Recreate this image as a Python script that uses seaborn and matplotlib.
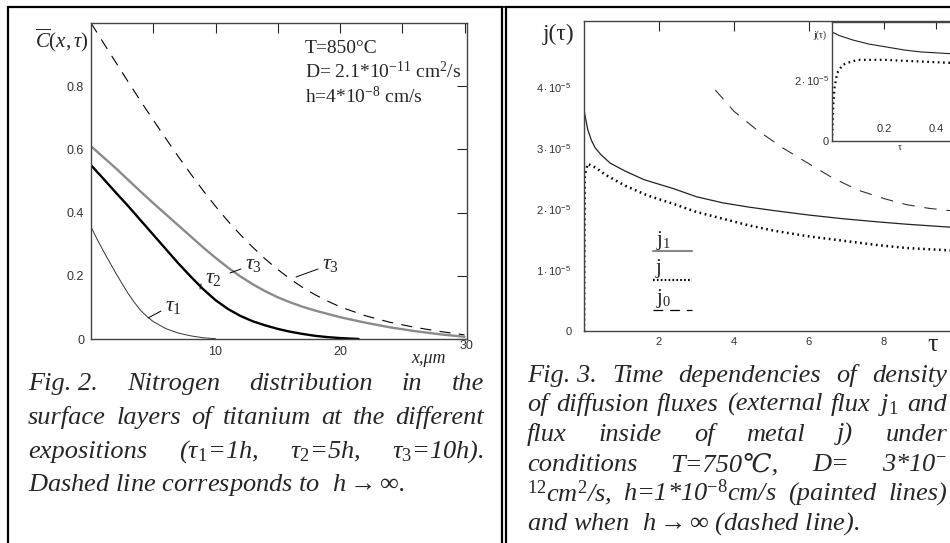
import numpy as np
import seaborn as sns
import matplotlib.pyplot as plt
from matplotlib.lines import Line2D
from matplotlib.transforms import ScaledTranslation

# ---- Fig. 2 : nitrogen concentration vs depth x (um) ----
x_inf = [0, 1, 2, 3, 4, 5, 6, 7, 8, 9, 10, 11, 12, 13, 14, 15, 16, 17, 18, 19, 20,
         22, 24, 26, 28, 30]
c_inf = [1.0, 0.937, 0.875, 0.813, 0.752, 0.693, 0.635, 0.578, 0.523, 0.47, 0.42, 0.373,
         0.33, 0.29, 0.253, 0.22, 0.19, 0.163, 0.14, 0.12, 0.102, 0.074, 0.053, 0.037,
         0.024, 0.013]
x_t3 = [0, 1, 2, 3, 4, 5, 6, 7, 8, 9, 10, 11, 12, 13, 14, 15, 16, 17, 18, 20, 22, 24,
        26, 28, 30]
c_t3 = [0.61, 0.575, 0.54, 0.503, 0.466, 0.43, 0.395, 0.36, 0.325, 0.29, 0.257, 0.226,
        0.198, 0.173, 0.151, 0.132, 0.116, 0.102, 0.09, 0.069, 0.052, 0.037, 0.025,
        0.015, 0.007]
x_t2 = [0, 1, 2, 3, 4, 5, 6, 7, 8, 9, 10, 11, 12, 13, 14, 15, 16, 17, 18, 19, 20, 21, 21.5]
c_t2 = [0.55, 0.507, 0.463, 0.42, 0.375, 0.33, 0.285, 0.24, 0.198, 0.158, 0.123, 0.095,
        0.073, 0.056, 0.043, 0.032, 0.023, 0.016, 0.01, 0.006, 0.003, 0.001, 0.0]
x_t1 = [0, 0.5, 1, 1.5, 2, 2.5, 3, 3.5, 4, 4.5, 5, 6, 7, 8, 9, 10]
c_t1 = [0.355, 0.315, 0.278, 0.243, 0.208, 0.175, 0.143, 0.115, 0.09, 0.071, 0.055,
        0.033, 0.019, 0.01, 0.004, 0.001]

# ---- Fig. 3 : flux densities vs time tau (values in 1e-5 units) ----
t_j1 = [0, 0.1, 0.2, 0.3, 0.45, 0.7, 1.1, 1.6, 2.4, 3.0, 3.7, 4.4, 5.1, 6.0, 6.9, 7.8, 8.6, 9.8]
j1 = [3.62, 3.3, 3.12, 3.0, 2.89, 2.75, 2.62, 2.48, 2.33, 2.2, 2.1, 2.03, 1.97, 1.9, 1.84, 1.79, 1.75, 1.70]
t_j = [0, 0.02, 0.1, 0.3, 0.6, 1.1, 1.7, 2.4, 3.0, 3.7, 4.4, 5.1, 6.0, 6.9, 7.8, 8.6, 9.8]
j = [0, 2.55, 2.74, 2.68, 2.55, 2.38, 2.22, 2.08, 1.95, 1.84, 1.73, 1.64, 1.55, 1.48, 1.41, 1.36, 1.32]
t_j0 = [3.5, 4.0, 4.6, 5.3, 6.0, 6.6, 7.3, 8.0, 8.6, 9.2, 9.8]
j0 = [3.95, 3.6, 3.3, 3.0, 2.74, 2.52, 2.31, 2.17, 2.07, 2.01, 1.97]

# inset (short times)
ti_j1 = [0, 0.03, 0.08, 0.14, 0.21, 0.28, 0.34, 0.46]
ji_j1 = [3.57, 3.45, 3.31, 3.18, 3.08, 2.98, 2.92, 2.86]
ti_j = [0, 0.005, 0.01, 0.02, 0.04, 0.07, 0.1, 0.2, 0.3, 0.46]
ji_j = [0, 1.2, 1.77, 2.23, 2.49, 2.59, 2.66, 2.66, 2.62, 2.56]

scale = 1e-5

sns.set_style('white')
plt.rcParams['font.family'] = ['Liberation Sans', 'DejaVu Sans']
plt.rcParams['mathtext.fontset'] = 'custom'
plt.rcParams['mathtext.rm'] = 'Liberation Serif'
plt.rcParams['mathtext.it'] = 'Liberation Serif:italic'
plt.rcParams['mathtext.bf'] = 'Liberation Serif:bold'
plt.rcParams['mathtext.sf'] = 'Liberation Sans'
plt.rcParams['lines.scale_dashes'] = False

SERIF = ['Liberation Serif', 'DejaVu Serif']
W, H = 950, 543
fig = plt.figure(figsize=(9.5, 5.43), dpi=100)


def box(x0, y0, x1, y1):
    return [x0 / W, 1 - y1 / H, (x1 - x0) / W, (y1 - y0) / H]


def fx(x):
    return x / W


def fy(y):
    return 1 - y / H


def sci(v):
    return r'$\mathsf{' + str(v) + r'\cdot10^{-5}}$'


# ---------------- left panel ----------------
ax1 = fig.add_axes(box(91, 23, 467, 339))
ax1.set_facecolor('none')
sns.lineplot(x=x_inf, y=c_inf, ax=ax1, color='black', lw=0.8, linestyle=(0, (8, 6)))
sns.lineplot(x=x_t3, y=c_t3, ax=ax1, color='#8a8a8a', lw=1.7)
sns.lineplot(x=x_t2, y=c_t2, ax=ax1, color='black', lw=1.7)
sns.lineplot(x=x_t1, y=c_t1, ax=ax1, color='#333333', lw=0.7)
ax1.set_xlim(0, 30.2)
ax1.set_ylim(0, 1.0)
ax1.set_xticks([5, 10, 15, 20, 25, 30])
ax1.set_xticklabels(['', '10', '', '20', '', '30'])
ax1.set_yticks([0, 0.2, 0.4, 0.6, 0.8])
ax1.set_yticklabels(['0', '0.2', '0.4', '0.6', '0.8'])
ax1.tick_params(direction='in', length=7, width=0.8, top=True, right=True,
                labelsize=9, labelcolor='#333333', pad=5)
lab30 = ax1.get_xticklabels()[-1]
lab30.set_transform(lab30.get_transform() + ScaledTranslation(0.02, 0.06, fig.dpi_scale_trans))
for s in ax1.spines.values():
    s.set_color('#444444')
    s.set_linewidth(1.0)

ax1.set_xlabel('x,μm', family=SERIF, style='italic', fontsize=13, ha='center', va='top')
ax1.xaxis.set_label_coords((428 - 91) / 376, -(350 - 339) / 316)
ax1.set_ylabel(r'$\overline{C}(x,\tau)$', fontsize=15, rotation=0, ha='center', va='center')
ax1.yaxis.set_label_coords((62 - 91) / 376, (339 - 40) / 316)

# curve labels with leader lines
for (lx, ly), (px, py), sub in [((165, 305), (148, 318), '1'), ((205, 278), (200, 289), '2'),
                                ((245, 263), (230, 273), '3'), ((322, 263), (296, 277), '3')]:
    fig.add_artist(Line2D([fx(px), fx(lx - 4)], [fy(py), fy(ly + 6)], color='black', lw=0.7))
    fig.text(fx(lx), fy(ly), r'$\tau_{' + sub + '}$', fontsize=16, ha='left', va='center')

for txt, yb in [('T=850°C', 53), ('D= 2.1*10$^{-11}$ cm$^2$/s', 78), ('h=4*10$^{-8}$ cm/s', 103)]:
    fig.text(fx(305), fy(yb), txt, family=SERIF, fontsize=14, ha='left', va='baseline')

# ---------------- right panel ----------------
ax2 = fig.add_axes(box(584, 21, 950, 331))
ax2.set_facecolor('none')
sns.lineplot(x=t_j1, y=np.array(j1) * scale, ax=ax2, color='#222222', lw=0.9)
sns.lineplot(x=t_j, y=np.array(j) * scale, ax=ax2, color='black', lw=1.8,
             linestyle=(0, (1.2, 2.6)), estimator=None, sort=False)
sns.lineplot(x=t_j0, y=np.array(j0) * scale, ax=ax2, color='#333333', lw=0.8,
             linestyle=(0, (9, 7)))
ax2.set_xlim(0, 9.76)
ax2.set_ylim(0, 5.08e-5)
ax2.set_xticks([2, 4, 6, 8])
ax2.set_xticklabels(['2', '4', '6', '8'])
ax2.set_yticks([0, 1e-5, 2e-5, 3e-5, 4e-5])
ax2.set_yticklabels(['0', sci(1), sci(2), sci(3), sci(4)])
ax2.tick_params(direction='in', length=7, width=0.8, top=True, right=False,
                labelsize=8, labelcolor='#333333')
ax2.tick_params(axis='y', pad=9)
ax2.tick_params(axis='x', pad=4)
ax2.spines['right'].set_visible(False)
for s in ax2.spines.values():
    s.set_color('#444444')
    s.set_linewidth(1.0)
ax2.set_xlabel('τ', family=SERIF, fontsize=19, ha='center', va='center')
ax2.xaxis.set_label_coords((933 - 584) / 366, -(345 - 331) / 310)
ax2.set_ylabel('j(τ)', family=SERIF, fontsize=17, rotation=0, ha='center', va='center')
ax2.yaxis.set_label_coords((558 - 584) / 366, (331 - 34) / 310)

# Mathcad-style legend: label above a line sample
for lbl, yt, yl, kw in [('j$_1$', 241, 251, dict(color='#888888', lw=1.5)),
                        ('j', 268, 280, dict(color='black', lw=1.6, linestyle=(0, (1.2, 1.6)))),
                        ('j$_0$', 298, 310, dict(color='black', lw=0.9, linestyle=(0, (7, 5))))]:
    fig.text(fx(656), fy(yt), lbl, family=SERIF, fontsize=15, ha='left', va='center')
    fig.add_artist(Line2D([fx(653), fx(692)], [fy(yl), fy(yl)], **kw))

# inset
ax3 = fig.add_axes(box(832, 22, 950, 141))
ax3.set_facecolor('white')
sns.lineplot(x=ti_j1, y=np.array(ji_j1) * scale, ax=ax3, color='#222222', lw=0.8)
sns.lineplot(x=ti_j, y=np.array(ji_j) * scale, ax=ax3, color='black', lw=1.6,
             linestyle=(0, (1.2, 2.6)), estimator=None, sort=False)
ax3.set_xlim(0, 0.454)
ax3.set_ylim(0, 3.9e-5)
ax3.set_xticks([0.2, 0.4])
ax3.set_xticklabels(['0.2', '0.4'])
ax3.set_yticks([0, 2e-5])
ax3.set_yticklabels(['0', sci(2)])
ax3.tick_params(direction='in', length=5, width=0.8, top=True, right=False,
                labelsize=8, labelcolor='#333333')
ax3.tick_params(axis='x', pad=-12)
ax3.tick_params(axis='y', pad=2)
ax3.spines['right'].set_visible(False)
for s in ax3.spines.values():
    s.set_color('#444444')
    s.set_linewidth(1.0)
ax3.set_xlabel('τ', family=SERIF, fontsize=7, ha='center', va='center')
ax3.xaxis.set_label_coords((900 - 832) / 118, -(148 - 141) / 119)
ax3.set_ylabel('j(τ)', family=SERIF, fontsize=7, rotation=0, ha='center', va='center')
ax3.yaxis.set_label_coords((820 - 832) / 118, (141 - 35) / 119)

# ---------------- frames ----------------
frame = dict(color='black', lw=1.6)
fig.add_artist(Line2D([fx(8), fx(8)], [0, fy(7)], **frame))
fig.add_artist(Line2D([fx(8), fx(503)], [fy(7), fy(7)], **frame))
fig.add_artist(Line2D([fx(502), fx(502)], [0, fy(7)], **frame))
fig.add_artist(Line2D([fx(506), fx(506)], [0, fy(7)], **frame))
fig.add_artist(Line2D([fx(505), fx(950)], [fy(7), fy(7)], **frame))

# ---------------- captions (justified) ----------------
renderer = fig.canvas.get_renderer()
CAP = dict(family=SERIF, style='italic', fontsize=19, va='baseline', ha='left')


def caption_line(words, x0, x1, yb, justify=True):
    texts = [fig.text(0, fy(yb), w, **CAP) for w in words]
    if not justify:
        texts[0].set_x(fx(x0))
        return
    widths = [t.get_window_extent(renderer).width for t in texts]
    gap = (x1 - x0 - sum(widths)) / max(len(words) - 1, 1)
    x = x0
    for t, w in zip(texts, widths):
        t.set_x(fx(x))
        x += w + gap


left_caption = [
    (['Fig. 2.', 'Nitrogen', 'distribution', 'in', 'the'], True, 390),
    (['surface', 'layers', 'of', 'titanium', 'at', 'the', 'different'], True, 424),
    (['expositions', '(τ$_1$=1h,', 'τ$_2$=5h,', 'τ$_3$=10h).'], True, 458),
    (['Dashed line corresponds to  $h\\rightarrow\\infty$.'], False, 491),
]
right_caption = [
    (['Fig. 3.', 'Time', 'dependencies', 'of', 'density'], True, 382),
    (['of', 'diffusion', 'fluxes', '(external', 'flux', 'j$_1$', 'and'], True, 411),
    (['flux', 'inside', 'of', 'metal', 'j)', 'under'], True, 441),
    (['conditions', 'T=750℃,', 'D=', '3*10$^{-}$'], True, 471),
    (['$^{12}$cm$^2$/s,', 'h=1*10$^{-8}$cm/s', '(painted', 'lines)'], True, 501),
    (['and when  $h\\rightarrow\\infty$ (dashed line).'], False, 530),
]
for words, just, yb in left_caption:
    caption_line(words, 28, 484, yb, just)
for words, just, yb in right_caption:
    caption_line(words, 527, 947, yb, just)

fig.savefig('out.png', dpi=100)
